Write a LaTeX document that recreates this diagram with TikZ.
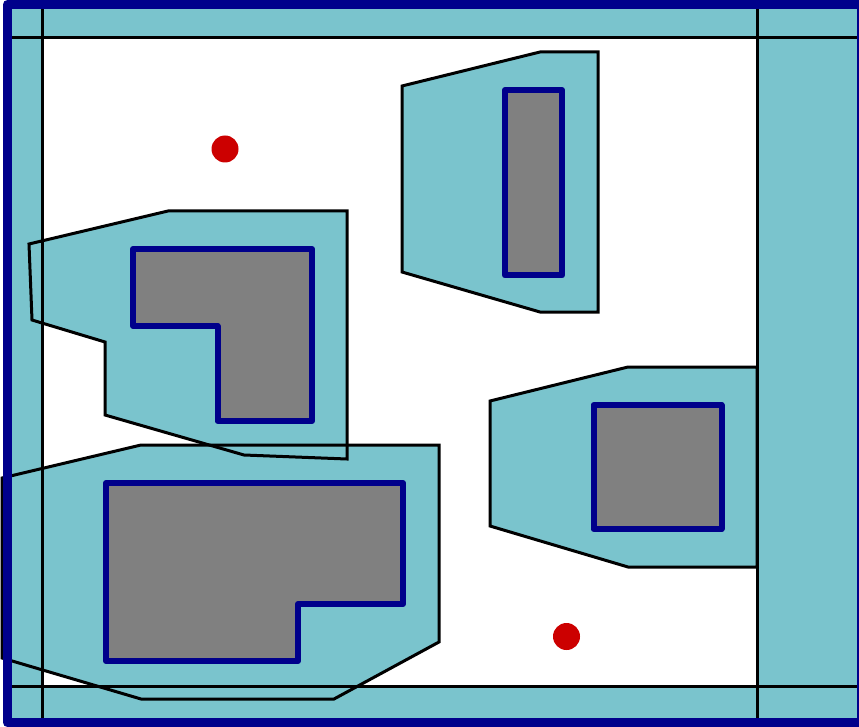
\documentclass[tikz,border=0pt]{standalone}
\definecolor{cs}{RGB}{122,196,205}
\definecolor{nv}{RGB}{0,0,139}
\definecolor{gr}{RGB}{128,128,128}
\definecolor{rd}{RGB}{204,0,0}
\tikzset{
  csfill/.style={fill=cs},
  csline/.style={draw=black,line width=3pt,line join=miter},
  obst/.style={fill=gr,draw=nv,line width=6pt,line join=round},
  bandline/.style={draw=black,line width=3pt},
  border/.style={draw=nv,line width=9pt,line join=round},
  dot/.style={fill=rd}
}
\begin{document}
\begin{tikzpicture}[x=1pt,y=-1pt]
\useasboundingbox (0,0) rectangle (859,727);
\begin{scope}
\clip (0,0) rectangle (859,727);
% cyan bands
\fill[cs,even odd rule] (7.5,4.5) rectangle (862,722.5) (42,38) rectangle (757,686);
% obstacle fills
\fill[cs] (402,86) -- (540,52) -- (598,52) -- (598,312) -- (540,312) -- (402,272) -- cycle;
\fill[cs] (29,244) -- (168,211) -- (347,211) -- (347,459) -- (244,455) -- (105,415) -- (105,342) -- (32,320) -- cycle;
\fill[cs] (2,478) -- (141,445) -- (439,445) -- (439,642) -- (334,699) -- (141,699) -- (2,658) -- cycle;
\fill[cs] (490,401) -- (628,367) -- (757,367) -- (757,567) -- (628,567) -- (490,526) -- cycle;
% obstacle outlines
\draw[csline] (402,86) -- (540,52) -- (598,52) -- (598,312) -- (540,312) -- (402,272) -- cycle;
\draw[csline] (29,244) -- (168,211) -- (347,211) -- (347,459) -- (244,455) -- (105,415) -- (105,342) -- (32,320) -- cycle;
\draw[csline] (2,478) -- (141,445) -- (439,445) -- (439,642) -- (334,699) -- (141,699) -- (2,658) -- cycle;
\draw[csline] (490,401) -- (628,367) -- (757,367) -- (757,567) -- (628,567) -- (490,526) -- cycle;
% band lines
\draw[bandline] (12,38) -- (859,38);
\draw[bandline] (12,686) -- (859,686);
\draw[bandline] (42,9) -- (42,718);
\draw[bandline] (757,9) -- (757,718);
% real obstacles
\draw[obst] (505,90) rectangle (562,275.5);
\draw[obst] (133,249) -- (312,249) -- (312,421) -- (217.5,421) -- (217.5,326) -- (133,326) -- cycle;
\draw[obst] (106,483) -- (403,483) -- (403,604) -- (298,604) -- (298,661) -- (106,661) -- cycle;
\draw[obst] (593.5,405) rectangle (721.5,529);
% border
\draw[border] (7.5,4.5) rectangle (861,722.5);
\end{scope}
% dots
\fill[dot] (225,149) circle (13.5);
\fill[dot] (566.5,636.5) circle (13.5);
\end{tikzpicture}
\end{document}
